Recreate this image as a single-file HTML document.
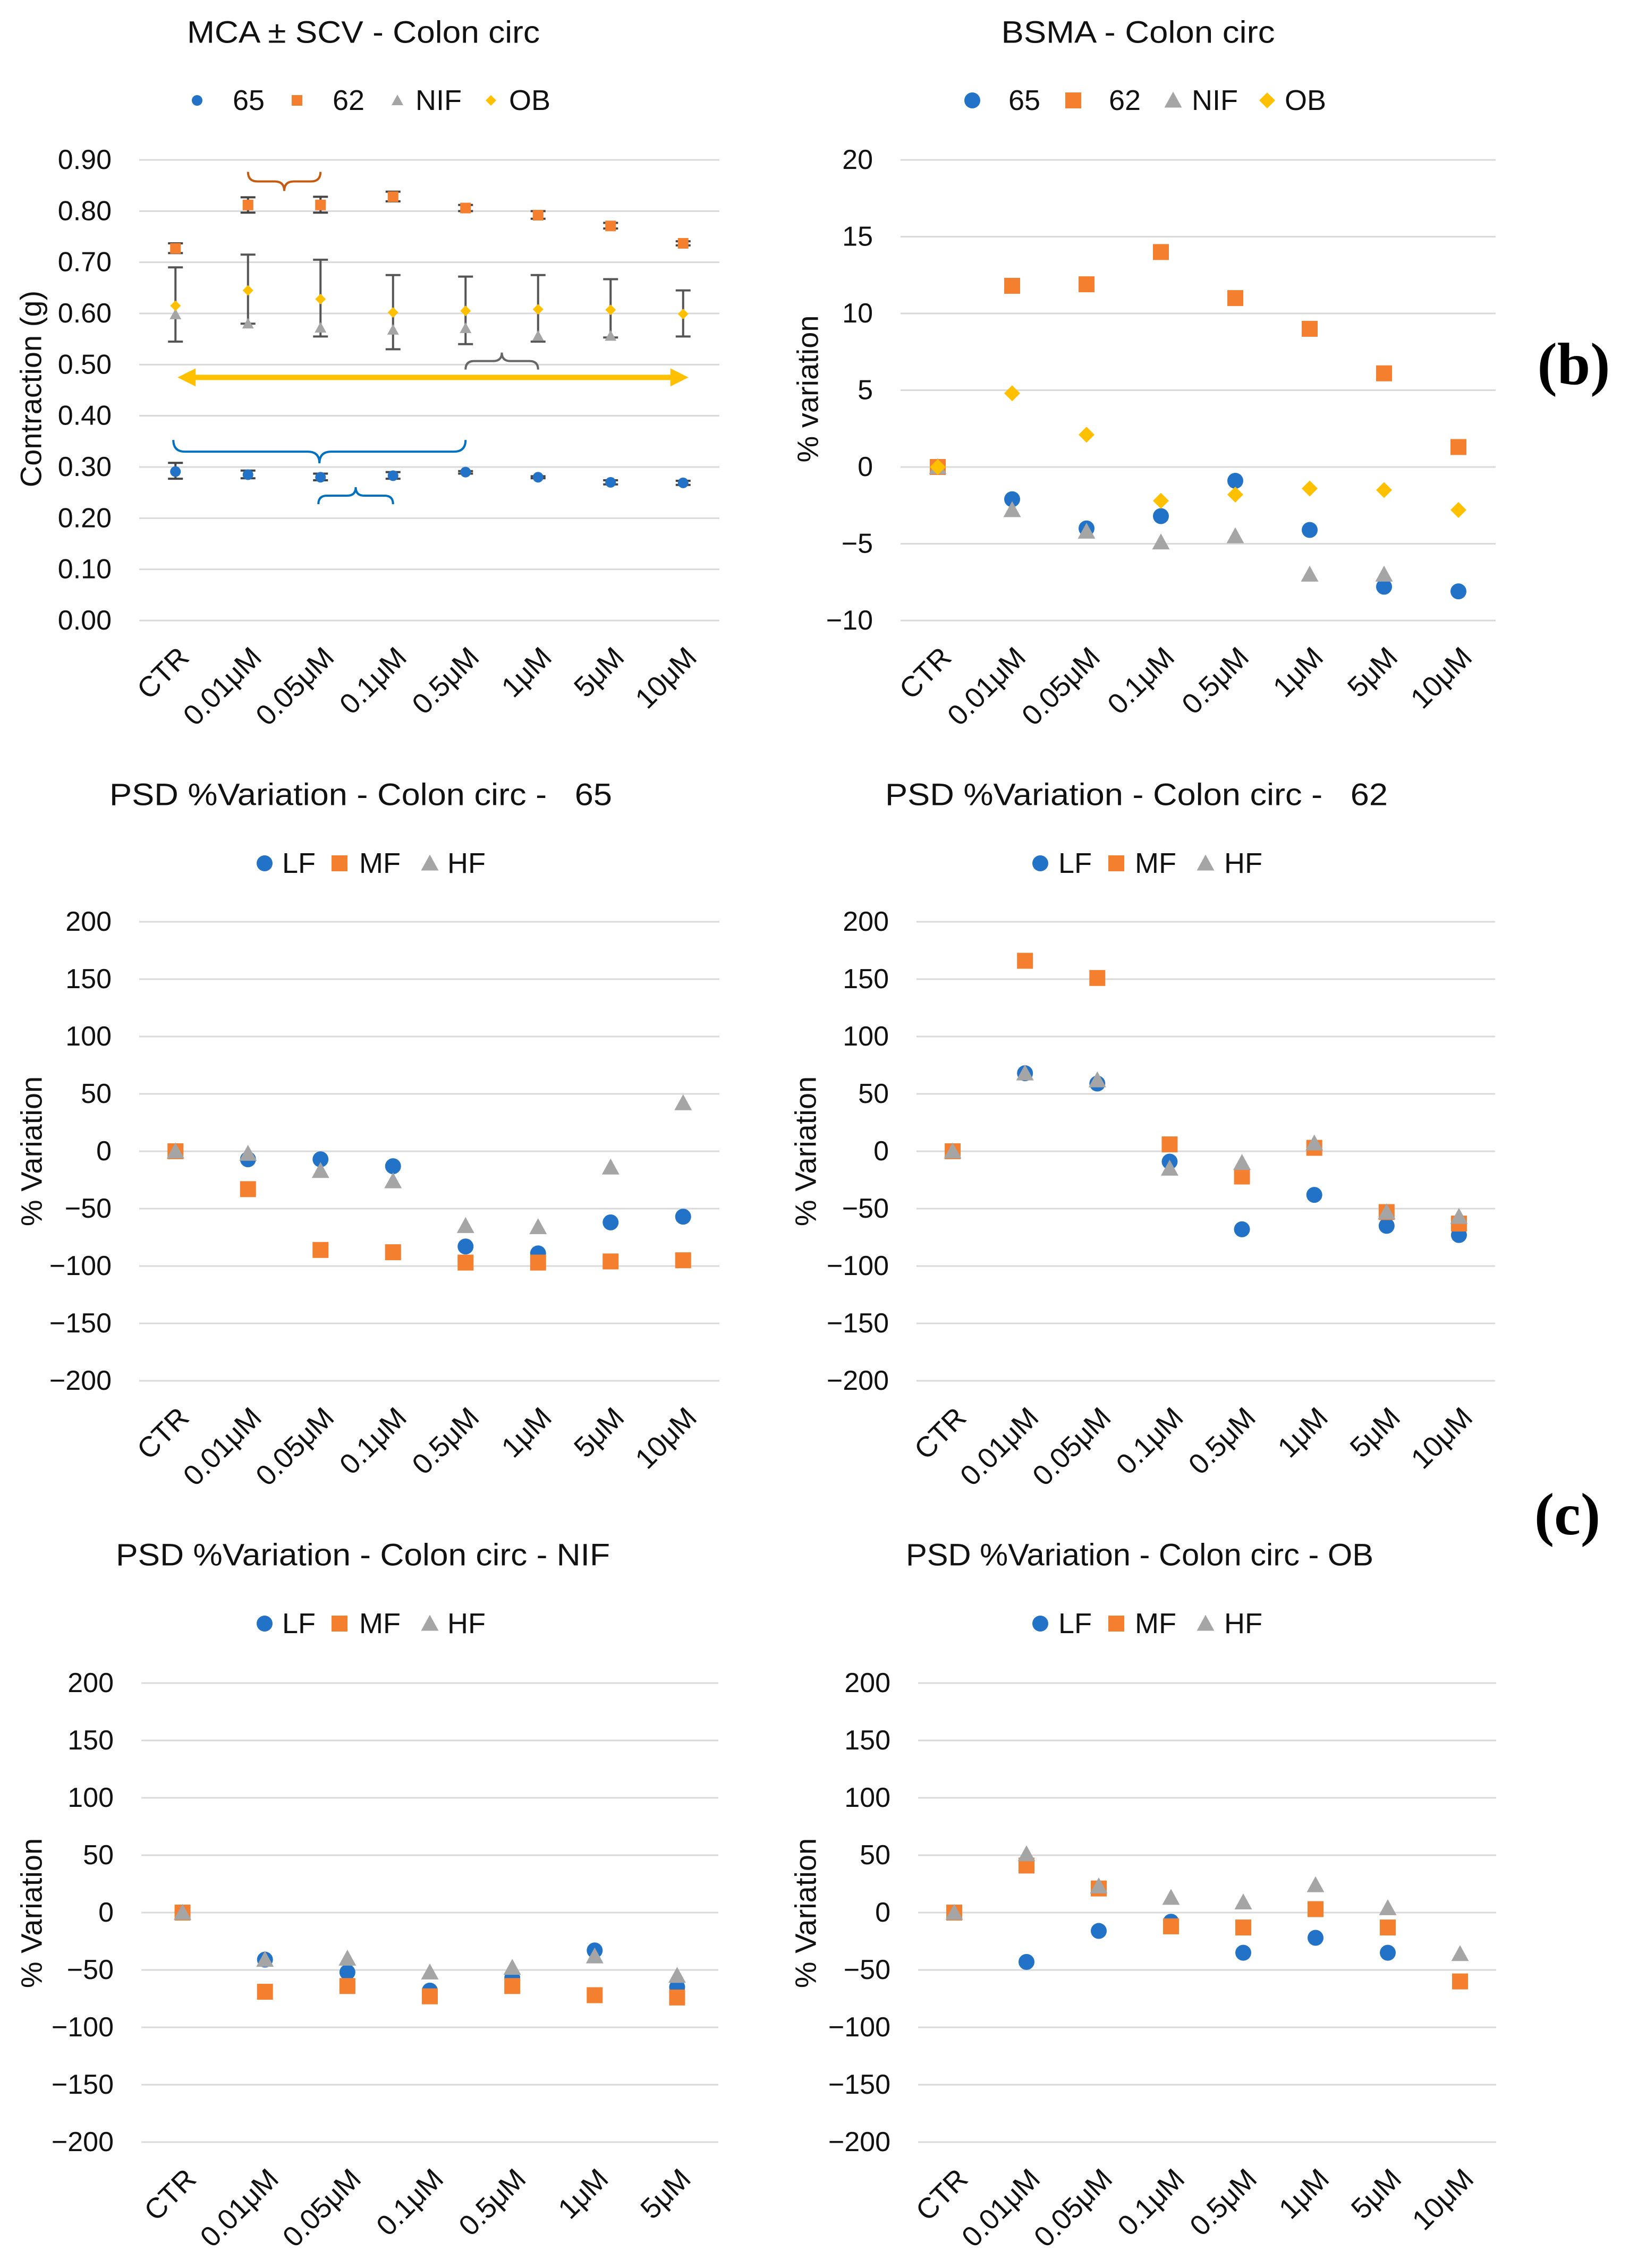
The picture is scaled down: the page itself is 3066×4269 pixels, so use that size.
<!DOCTYPE html>
<html><head><meta charset="utf-8"><style>
html,body{margin:0;padding:0;background:#fff;}
svg{display:block;font-family:"Liberation Sans",sans-serif;}
text{white-space:pre;}
</style></head><body>
<svg id="root" width="3066" height="4269" viewBox="0 0 3066 4269" xmlns="http://www.w3.org/2000/svg" xml:space="preserve"></svg>
<script>
const cats8 = ["CTR","0.01μM","0.05μM","0.1μM","0.5μM","1μM","5μM","10μM"];
const cats7 = ["CTR","0.01μM","0.05μM","0.1μM","0.5μM","1μM","5μM"];
const ticksA = ["0.00","0.10","0.20","0.30","0.40","0.50","0.60","0.70","0.80","0.90"];
const ticksB = [-10,-5,0,5,10,15,20];
const ticksPSD = [-200,-150,-100,-50,0,50,100,150,200];
// Panel A
const a65 = [0.291,0.285,0.280,0.283,0.290,0.280,0.270,0.269];
const a65lo = [0.277,0.278,0.274,0.277,0.287,0.278,0.266,0.265];
const a65hi = [0.308,0.293,0.287,0.290,0.292,0.282,0.274,0.273];
const a62 = [0.727,0.812,0.812,0.828,0.806,0.792,0.771,0.737];
const a62lo = [0.718,0.797,0.797,0.819,0.800,0.785,0.766,0.733];
const a62hi = [0.737,0.827,0.828,0.838,0.812,0.800,0.777,0.741];
const aNIF = [0.598,0.580,0.572,0.568,0.571,0.556,0.556,null];
const aOB = [0.615,0.645,0.628,0.602,0.605,0.608,0.607,0.599];
const aErrLo = [0.545,0.580,0.555,0.530,0.540,0.545,0.553,0.555];
const aErrHi = [0.690,0.715,0.705,0.675,0.672,0.675,0.667,0.645];
// Panel B
const b65 = [0,-2.1,-4.0,-3.2,-0.9,-4.1,-7.8,-8.1];
const b62 = [0,11.8,11.9,14.0,11.0,9.0,6.1,1.3];
const bNIF = [0,-2.8,-4.2,-4.9,-4.5,-7.0,-7.0,null];
const bOB = [0,4.8,2.1,-2.2,-1.8,-1.4,-1.5,-2.8];
// PSD 65
const c1LF = [0,-7,-7,-13,-83,-89,-62,-57];
const c1MF = [0,-33,-86,-88,-97,-97,-96,-95];
const c1HF = [0,-2,-17,-26,-65,-66,-14,42];
// PSD 62
const c2LF = [0,68,59,-9,-68,-38,-65,-73];
const c2MF = [0,166,151,6,-22,3,-53,-63];
const c2HF = [0,68,62,-15,-10,7,-53,-57];
// PSD NIF
const d1LF = [0,-41,-52,-68,-57,-33,-65];
const d1MF = [0,-69,-64,-73,-64,-72,-74];
const d1HF = [0,-41,-40,-52,-48,-38,-55];
// PSD OB
const d2LF = [0,-43,-16,-8,-35,-22,-35,null];
const d2MF = [0,41,21,-12,-13,3,-13,-60];
const d2HF = [0,51,23,13,9,24,4,-36];

const NS="http://www.w3.org/2000/svg";
const root=document.getElementById('root');
const COL={blue:"#2272c8",orange:"#f47f2f",gray:"#a5a5a5",yellow:"#ffc000"};
function el(tag,attrs,parent,txt){const e=document.createElementNS(NS,tag);for(const k in attrs)e.setAttribute(k,attrs[k]);if(txt!==undefined)e.textContent=txt;(parent||root).appendChild(e);return e;}
function marker(g,shape,x,y,s,color){
  let m;
  if(shape==="circle") m=el("circle",{cx:x,cy:y,r:s/2,fill:color},g);
  else if(shape==="square") m=el("rect",{x:x-s/2,y:y-s/2,width:s,height:s,fill:color},g);
  else if(shape==="triangle") m=el("polygon",{points:`${x},${y-s*0.55} ${x+s*0.55},${y+s*0.45} ${x-s*0.55},${y+s*0.45}`,fill:color},g);
  else m=el("polygon",{points:`${x},${y-s/2} ${x+s/2},${y} ${x},${y+s/2} ${x-s/2},${y}`,fill:color},g);
  return m;
}
function panel(p){
  const g=el("g",{},root);
  
  
  const t=el("text",{x:p.titleX,y:p.titleY,"font-size":58,"text-anchor":"middle","dominant-baseline":"central",fill:"#111",textLength:p.titleW,lengthAdjust:"spacingAndGlyphs"},g,p.title);
  
  
  const n=p.cats.length, w=(p.x1-p.x0)/n;
  const xs=i=>p.x0+(i+0.5)*w;
  const ys=v=>p.y1-(v-p.min)/(p.max-p.min)*(p.y1-p.y0);
  p.ticks.forEach(tv=>{
    const v=parseFloat(tv);
    const gl=el("line",{x1:p.x0,x2:p.x1,y1:ys(v),y2:ys(v),stroke:"#d9d9d9","stroke-width":3},g);
    
    
    const lbl=String(tv).replace("-","−");
    const tl=el("text",{x:p.x0-52,y:ys(v),"font-size":52,"text-anchor":"end","dominant-baseline":"central",fill:"#111"},g,lbl);
    
    
  });
  p.cats.forEach((c,i)=>{
    const x=xs(i)+16,y=p.y1+60;
    const xl=el("text",{x:x,y:y,"font-size":54,"text-anchor":"end","dominant-baseline":"central",fill:"#111",transform:`rotate(-45 ${x} ${y})`},g,c);
    
    
  });
  const yt=el("text",{x:p.ytX,y:p.ytY,"font-size":56,"text-anchor":"middle","dominant-baseline":"central",fill:"#111",transform:`rotate(-90 ${p.ytX} ${p.ytY})`},g,p.ytitle);
  
  
  if(p.extra) p.extra(g,xs,ys);
  p.series.forEach(s=>{
    const sg=el("g",{},g);
    
    
    s.data.forEach((v,i)=>{
      if(v===null)return;
      const m=marker(sg,s.shape,xs(i),ys(v),p.ms,s.color);
      
      
    });
  });
  p.series.forEach((s,k)=>{
    const lg=el("g",{},g);
    
    
    marker(lg,s.shape,p.leg[k][0],p.legY,p.lms,s.color);
    el("text",{x:p.leg[k][1],y:p.legY,"font-size":54,"dominant-baseline":"central",fill:"#111"},lg,s.label);
  });
}
function brace(g,xa,xb,y,h,color,up){
  const d=up?-1:1, xm=(xa+xb)/2, r=Math.abs(h);
  const path=`M${xa},${y+d*r} Q${xa},${y} ${xa+r},${y} L${xm-r},${y} Q${xm},${y} ${xm},${y-d*r} Q${xm},${y} ${xm+r},${y} L${xb-r},${y} Q${xb},${y} ${xb},${y+d*r}`;
  const b=el("path",{d:path,fill:"none",stroke:color,"stroke-width":4},g);
  
  
}
const psdSeries=(lf,mf,hf)=>[
  {label:"LF",data:lf,shape:"circle",color:COL.blue},
  {label:"MF",data:mf,shape:"square",color:COL.orange},
  {label:"HF",data:hf,shape:"triangle",color:COL.gray}];
const legL=[[498,531],[639,676],[809,842]], legR=[[1958,1992],[2101,2136],[2269,2304]];

panel({name:"chart-mca-contraction",title:"MCA ± SCV - Colon circ",titleX:684,titleY:61,titleW:664,
  cats:cats8,x0:262,x1:1354,y0:301,y1:1168,min:0,max:0.9,ticks:ticksA,ytitle:"Contraction (g)",ytX:58,ytY:732,ms:20,lms:20,legY:189,
  leg:[[371,438],[559,626],[748,782],[924,958]],
  series:[{label:"65",data:a65,shape:"circle",color:COL.blue},{label:"62",data:a62,shape:"square",color:COL.orange},
    {label:"NIF",data:aNIF,shape:"triangle",color:COL.gray},{label:"OB",data:aOB,shape:"diamond",color:COL.yellow}],
  extra:(g,xs,ys)=>{
    const bar=(lo,hi,color,i)=>{const x=xs(i);
      el("line",{x1:x,x2:x,y1:ys(lo),y2:ys(hi),stroke:color,"stroke-width":4},g);
      el("line",{x1:x-14,x2:x+14,y1:ys(lo),y2:ys(lo),stroke:color,"stroke-width":4},g);
      el("line",{x1:x-14,x2:x+14,y1:ys(hi),y2:ys(hi),stroke:color,"stroke-width":4},g);};
    aErrLo.forEach((v,i)=>bar(v,aErrHi[i],"#555",i));
    a65lo.forEach((v,i)=>bar(v,a65hi[i],"#444",i));
    a62lo.forEach((v,i)=>bar(v,a62hi[i],"#444",i));
    brace(g,xs(1),xs(2),ys(0.858),18,"#c55a11",true);
    brace(g,xs(4),xs(5),ys(0.507),16,"#666",false);
    brace(g,xs(0)-4,xs(4),ys(0.33),22,"#0070c0",true);
    brace(g,xs(2)-4,xs(3),ys(0.244),16,"#0070c0",false);
    const ay=ys(0.475),xa=xs(0)+4,xb=xs(7)+10;
    const ar=el("g",{},g);
    
    
    el("line",{x1:xa+30,x2:xb-30,y1:ay,y2:ay,stroke:COL.yellow,"stroke-width":10},ar);
    el("polygon",{points:`${xa},${ay} ${xa+34},${ay-17} ${xa+34},${ay+17}`,fill:COL.yellow},ar);
    el("polygon",{points:`${xb},${ay} ${xb-34},${ay-17} ${xb-34},${ay+17}`,fill:COL.yellow},ar);
  }});
panel({name:"chart-bsma-variation",title:"BSMA - Colon circ",titleX:2142,titleY:61,titleW:515,
  cats:cats8,x0:1695,x1:2815,y0:301,y1:1168,min:-10,max:20,ticks:ticksB,ytitle:"% variation",ytX:1520,ytY:732,ms:30,lms:30,legY:189,
  leg:[[1830,1898],[2020,2087],[2208,2243],[2385,2418]],
  series:[{label:"65",data:b65,shape:"circle",color:COL.blue},{label:"62",data:b62,shape:"square",color:COL.orange},
    {label:"NIF",data:bNIF,shape:"triangle",color:COL.gray},{label:"OB",data:bOB,shape:"diamond",color:COL.yellow}]});
panel({name:"chart-psd-65",title:"PSD %Variation - Colon circ -   65",titleX:679,titleY:1496,titleW:946,
  cats:cats8,x0:262,x1:1354,y0:1735,y1:2599,min:-200,max:200,ticks:ticksPSD,ytitle:"% Variation",ytX:59,ytY:2167,ms:30,lms:30,legY:1625,leg:legL,
  series:psdSeries(c1LF,c1MF,c1HF)});
panel({name:"chart-psd-62",title:"PSD %Variation - Colon circ -   62",titleX:2139,titleY:1496,titleW:946,
  cats:cats8,x0:1725,x1:2814,y0:1735,y1:2599,min:-200,max:200,ticks:ticksPSD,ytitle:"% Variation",ytX:1516,ytY:2167,ms:30,lms:30,legY:1625,leg:legR,
  series:psdSeries(c2LF,c2MF,c2HF)});
panel({name:"chart-psd-nif",title:"PSD %Variation - Colon circ - NIF",titleX:683,titleY:2927,titleW:930,
  cats:cats7,x0:266,x1:1352,y0:3168,y1:4032,min:-200,max:200,ticks:ticksPSD,ytitle:"% Variation",ytX:59,ytY:3601,ms:30,lms:30,legY:3056,leg:legL,
  series:psdSeries(d1LF,d1MF,d1HF)});
panel({name:"chart-psd-ob",title:"PSD %Variation - Colon circ - OB",titleX:2145,titleY:2927,titleW:880,
  cats:cats8,x0:1728,x1:2816,y0:3168,y1:4032,min:-200,max:200,ticks:ticksPSD,ytitle:"% Variation",ytX:1516,ytY:3601,ms:30,lms:30,legY:3056,leg:legR,
  series:psdSeries(d2LF,d2MF,d2HF)});
const lb=el("text",{x:2962,y:723,"font-size":112,"font-weight":"bold","text-anchor":"middle","font-family":"Liberation Serif, serif",fill:"#000"},root,"(b)");


const lc=el("text",{x:2950,y:2888,"font-size":112,"font-weight":"bold","text-anchor":"middle","font-family":"Liberation Serif, serif",fill:"#000"},root,"(c)");


</script>
</body></html>
